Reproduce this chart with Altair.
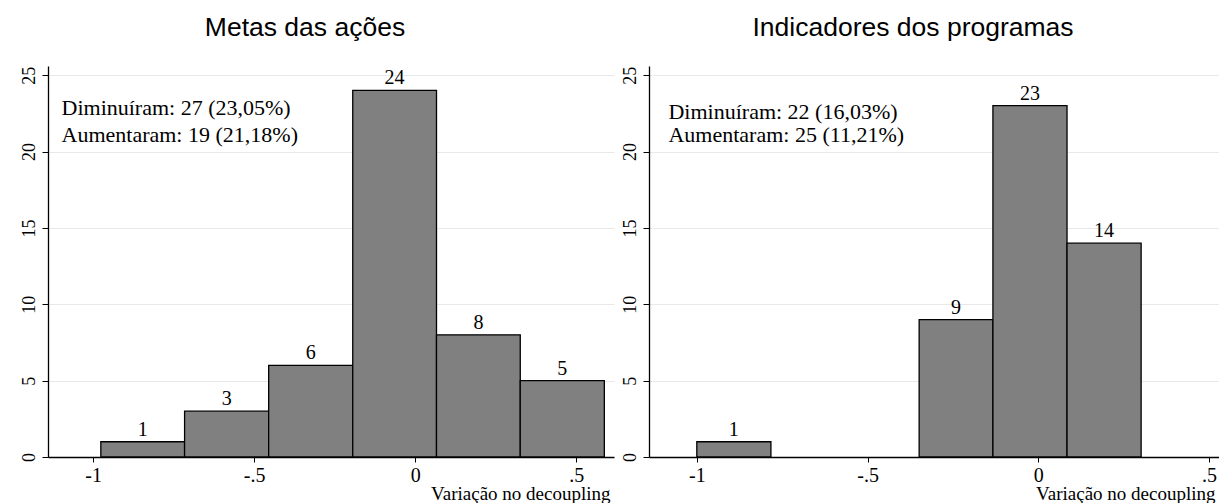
import altair as alt
import pandas as pd

# ---- data ----
titles = ["Metas das ações", "Indicadores dos programas"]

left_lo = [-0.976, -0.716, -0.455, -0.194, 0.066, 0.326]
left_hi = [-0.716, -0.455, -0.194, 0.066, 0.326, 0.587]
left_counts = [1, 3, 6, 24, 8, 5]

right_lo = [-1.0, -0.349, -0.133, 0.084]
right_hi = [-0.783, -0.133, 0.084, 0.301]
right_counts = [1, 9, 23, 14]

notes_left = ["Diminuíram: 27 (23,05%)", "Aumentaram: 19 (21,18%)"]
notes_right = ["Diminuíram: 22 (16,03%)", "Aumentaram: 25 (11,21%)"]

x_ticks = [-1, -0.5, 0, 0.5]
y_ticks = [0, 5, 10, 15, 20, 25]
x_title = "Variação no decoupling"

SERIF = "Liberation Serif"
SANS = "Liberation Sans"


def panel(lo, hi, counts, notes, note_x, note_ys, title, xdom, width, title_dx):
    df = pd.DataFrame({"lo": lo, "hi": hi, "n": counts})
    df["mid"] = (df["lo"] + df["hi"]) / 2
    xs = alt.Scale(domain=xdom, nice=False, zero=False)
    ys = alt.Scale(domain=[0, 25.6], nice=False)

    x_axis = alt.Axis(
        values=x_ticks,
        labelExpr="replace(toString(datum.value), '0.', '.')",
        titleFont=SERIF, titleFontSize=19,
        titleFontWeight="normal", titleColor="#000000",
        titleAnchor="end", titleAlign="right", titleBaseline="alphabetic",
        titleX=width - 4, titleY=42,
        labelFont=SERIF, labelFontSize=20, labelColor="#000000",
        labelPadding=3, tickSize=5, grid=False,
        domainColor="#000000", tickColor="#000000", domainWidth=1.3,
    )
    y_axis = alt.Axis(
        values=y_ticks,
        labelAngle=270, labelAlign="center", labelBaseline="alphabetic",
        labelFont=SERIF, labelFontSize=18, labelColor="#000000",
        labelPadding=8, tickSize=6, grid=True, gridColor="#e8e8e8",
        gridWidth=1, domainColor="#000000", tickColor="#000000",
        domainWidth=1.3,
    )

    bars = alt.Chart(df).mark_bar(
        color="#808080", stroke="#000000", strokeWidth=1.3
    ).encode(
        x=alt.X("lo:Q", scale=xs, axis=x_axis, title=x_title),
        x2="hi:Q",
        y=alt.Y("n:Q", scale=ys, axis=y_axis, title=None),
        y2=alt.datum(0),
    )

    labels = alt.Chart(df).mark_text(
        font=SERIF, fontSize=20, baseline="alphabetic", dy=-6, color="#000000"
    ).encode(
        x=alt.X("mid:Q", scale=xs, title=x_title),
        y=alt.Y("n:Q", scale=ys, title=None),
        text="n:Q",
    )

    ndf = pd.DataFrame({"t": notes, "x": [note_x] * len(notes), "y": note_ys})
    note = alt.Chart(ndf).mark_text(
        font=SERIF, fontSize=22, align="left", baseline="alphabetic", color="#000000"
    ).encode(
        x=alt.X("x:Q", scale=xs, title=x_title),
        y=alt.Y("y:Q", scale=ys, title=None),
        text="t:N",
    )

    return alt.layer(bars, labels, note).properties(
        width=width, height=391,
        title=alt.TitleParams(
            title, font=SANS, fontSize=26.5, fontWeight="normal", color="#000000",
            anchor="middle", frame="bounds", baseline="alphabetic",
            offset=4, dx=title_dx,
        ),
    )


left = panel(left_lo, left_hi, left_counts, notes_left, -1.098, [22.4, 20.6],
             titles[0], [-1.140, 0.617], 566, -12)
right = panel(right_lo, right_hi, right_counts, notes_right, -1.083, [22.1, 20.6],
              titles[1], [-1.140, 0.529], 570, -7)

chart = alt.hconcat(left, right, spacing=7).properties(
    padding={"left": 12, "top": 6, "right": 0, "bottom": 0},
    background="#ffffff",
).configure_view(strokeWidth=0)

chart.save("out.html", embed_options={"renderer": "svg", "actions": False})
